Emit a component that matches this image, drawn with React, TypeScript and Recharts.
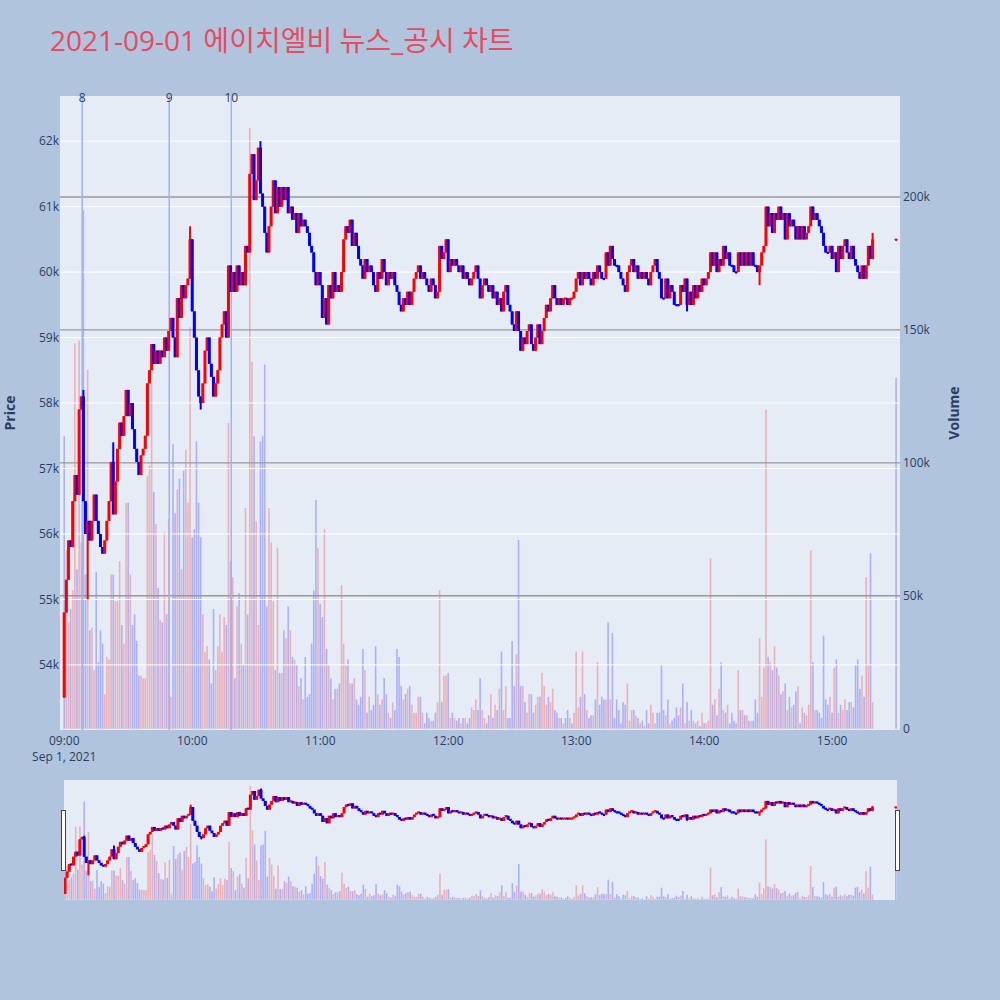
import { ComposedChart, Bar, XAxis, YAxis, CartesianGrid, ReferenceLine } from 'recharts'

// Minute candles of the day, index = minutes after 09:00 (09:00 ~ 15:19), plus the 15:30 closing auction
const FIRST_OPEN = 53500
const CLOSES = [
  54800, 55300, 55900, 55800, 56500, 56900, 56600, 57900, 58100, 56500,
  56000, 56200, 55900, 56200, 56600, 56200, 56000, 55800, 55700, 55900,
  56200, 56500, 57100, 56300, 56800, 57300, 57700, 57500, 57800, 58200,
  57800, 58000, 57600, 57300, 57100, 56900, 57200, 57300, 57500, 58300,
  58500, 58900, 58600, 58800, 58600, 58800, 58700, 59000, 58800, 59100,
  59300, 59000, 58700, 59600, 59300, 59800, 59600, 59800, 59900, 60500,
  59400, 59000, 58500, 58100, 58000, 58300, 58800, 59000, 58600, 58400,
  58100, 58300, 58500, 59000, 59200, 59400, 59000, 60100, 59700, 60000,
  59700, 60100, 59800, 60000, 59800, 60400, 60300, 61500, 61800, 61100,
  61400, 61900, 61200, 61000, 60600, 60300, 60700, 61000, 61400, 60900,
  61300, 61000, 61300, 61100, 61300, 60900, 61000, 60800, 60900, 60600,
  60900, 60700, 60800, 60700, 60600, 60400, 60300, 60000, 59800, 60000,
  59800, 59300, 59600, 59200, 59800, 59600, 60000, 59700, 59800, 59700,
  60000, 60500, 60700, 60600, 60800, 60400, 60600, 60400, 60200, 60100,
  59900, 60200, 60000, 60100, 60000, 59800, 59700, 60000, 59900, 60200,
  60000, 59800, 60000, 59900, 60000, 59800, 59700, 59500, 59400, 59600,
  59500, 59700, 59500, 59700, 59900, 60000, 60100, 59900, 60000, 59900,
  59800, 59700, 59900, 59800, 59600, 59700, 60400, 60200, 60300, 60500,
  60000, 60200, 60100, 60200, 60100, 60000, 60100, 59900, 60000, 59900,
  59800, 59900, 60000, 60100, 59900, 59600, 59800, 59900, 59800, 59700,
  59800, 59600, 59700, 59500, 59600, 59400, 59700, 59800, 59500, 59400,
  59200, 59100, 59400, 59100, 58800, 59000, 58900, 59100, 59200, 58900,
  58800, 59000, 59200, 58900, 59100, 59300, 59500, 59400, 59600, 59800,
  59600, 59500, 59600, 59500, 59600, 59600, 59500, 59600, 59600, 59700,
  59900, 60000, 59800, 60000, 59900, 60000, 59900, 59800, 60000, 59900,
  60100, 60000, 59900, 59900, 60300, 60100, 60400, 60200, 60100, 60100,
  60000, 59900, 59800, 59700, 60000, 60100, 60200, 60000, 60100, 59900,
  60000, 59900, 60000, 59900, 59800, 60000, 60100, 60200, 60000, 59900,
  59600, 59600, 59900, 59600, 59800, 59700, 59500, 59500, 59500, 59800,
  59700, 59900, 59500, 59700, 59500, 59800, 59600, 59800, 59700, 59900,
  59800, 59900, 60000, 60300, 60100, 60300, 60000, 60200, 60100, 60400,
  60200, 60300, 60100, 60100, 60000, 60000, 60300, 60100, 60300, 60100,
  60300, 60100, 60300, 60100, 60100, 60000, 60100, 60300, 60400, 61000,
  60700, 60900, 60600, 60900, 60800, 61000, 60800, 60900, 60500, 60900,
  60700, 60800, 60700, 60500, 60700, 60500, 60700, 60500, 60600, 60700,
  61000, 60800, 60900, 60800, 60700, 60600, 60400, 60300, 60300, 60400,
  60200, 60300, 60000, 60400, 60200, 60400, 60500, 60300, 60200, 60400,
  60200, 60100, 60000, 59900, 60100, 59900, 60100, 60400, 60200, 60500,
]
// volume per minute, thousands of shares
const VOLUMES_K = [
  110, 67, 40, 45, 52, 145, 60, 146, 70, 195,
  58, 135, 37, 38, 22, 59, 25, 37, 32, 13,
  27, 26, 58, 58, 48, 48, 63, 39, 32, 85,
  85, 58, 39, 43, 33, 20, 20, 19, 19, 95,
  99, 130, 89, 77, 53, 41, 40, 74, 43, 79,
  12, 107, 81, 90, 94, 60, 97, 105, 85, 151,
  72, 75, 108, 85, 72, 43, 29, 31, 26, 17,
  45, 22, 31, 43, 29, 42, 39, 115, 63, 57,
  19, 46, 51, 32, 24, 83, 43, 226, 138, 110,
  78, 39, 108, 110, 137, 46, 83, 70, 48, 22,
  68, 21, 21, 37, 34, 46, 37, 27, 26, 24,
  16, 19, 11, 27, 12, 13, 32, 52, 86, 68,
  47, 42, 75, 30, 24, 19, 11, 15, 15, 17,
  54, 32, 24, 26, 17, 17, 19, 11, 9, 12,
  30, 22, 6, 12, 7, 9, 31, 13, 9, 11,
  19, 13, 6, 4, 10, 7, 30, 27, 16, 11,
  13, 15, 16, 9, 6, 6, 12, 12, 6, 2,
  6, 4, 3, 3, 6, 10, 52, 10, 20, 20,
  21, 4, 6, 4, 3, 4, 2, 4, 4, 2,
  4, 8, 7, 11, 7, 19, 7, 4, 2, 5,
  13, 4, 9, 7, 15, 29, 7, 16, 4, 4,
  33, 16, 28, 71, 16, 16, 10, 6, 13, 13,
  6, 9, 12, 12, 21, 16, 9, 12, 10, 15,
  7, 6, 4, 4, 2, 4, 7, 4, 2, 6,
  29, 8, 12, 29, 13, 7, 4, 5, 5, 11,
  25, 9, 12, 11, 11, 40, 11, 36, 4, 11,
  7, 2, 10, 9, 17, 3, 7, 7, 5, 4,
  2, 3, 1, 7, 2, 9, 6, 2, 6, 6,
  24, 7, 5, 11, 2, 3, 4, 8, 5, 8,
  17, 2, 10, 3, 7, 3, 2, 3, 1, 6,
  2, 2, 3, 64, 9, 11, 5, 15, 25, 7,
  6, 9, 2, 6, 3, 2, 22, 7, 7, 5,
  5, 3, 3, 3, 11, 6, 34, 12, 23, 120,
  27, 25, 22, 31, 23, 20, 13, 14, 17, 7,
  12, 8, 9, 14, 16, 2, 8, 6, 5, 9,
  67, 25, 7, 7, 6, 4, 35, 11, 9, 12,
  6, 23, 26, 6, 9, 7, 11, 7, 10, 10,
  8, 24, 26, 15, 20, 12, 57, 24, 66, 10,
]
const AUCTION_MINUTE = 390
const AUCTION_CLOSE = 60500
const AUCTION_VOLUME_K = 132

// [minute, price] wicks that reach past the body
const HIGH_WICKS: [number, number][] = [[9, 58200], [23, 57400], [59, 60700], [92, 62000], [379, 60600]]
const LOW_WICKS: [number, number][] = [[11, 55000], [64, 57900], [292, 59400], [326, 59800]]

const NEWS = [
  { label: '8', minute: 8.4 },
  { label: '9', minute: 49.2 },
  { label: '10', minute: 78.3 },
]

const PRICE_TICKS = [54000, 55000, 56000, 57000, 58000, 59000, 60000, 61000, 62000]
const VOLUME_TICKS = [0, 50, 100, 150, 200]
const TIME_TICKS = [0, 60, 120, 180, 240, 300, 360]
const TIME_LABELS = ['09:00', '10:00', '11:00', '12:00', '13:00', '14:00', '15:00']

const PRICE_DOMAIN: [number, number] = [53005, 62690]
const VOLUME_DOMAIN: [number, number] = [-0.5, 238]

const PAGE_BG = '#B0C4DE'
const PLOT_BG = '#E5ECF6'
const INK = '#2a3f5f'
const FONT = '"Open Sans", "Noto Sans CJK KR", sans-serif'
const UP = '#ff0000'
const DOWN = '#0000ff'

type Row = {
  t: number
  open: number
  close: number
  high: number
  low: number
  range: [number, number]
  volume: number
  up: boolean
  volUp: boolean
}

function buildRows(): Row[] {
  const closes = [...CLOSES, AUCTION_CLOSE]
  const minutes = [...CLOSES.map((_, i) => i), AUCTION_MINUTE]
  const volumes = [...VOLUMES_K, AUCTION_VOLUME_K]
  const highs = new Map(HIGH_WICKS)
  const lows = new Map(LOW_WICKS)
  let lastUp = true
  return closes.map((close, i) => {
    const open = i === 0 ? FIRST_OPEN : closes[i - 1]
    const t = minutes[i]
    const high = Math.max(open, close, highs.get(t) ?? -Infinity)
    const low = Math.min(open, close, lows.get(t) ?? Infinity)
    const up = close > open ? true : close < open ? false : lastUp
    lastUp = up
    return {
      t,
      open,
      close,
      high,
      low,
      range: [low, high],
      volume: volumes[i],
      up,
      volUp: i > 0 && close > closes[i - 1],
    }
  })
}

function Candle(props: any) {
  const { x, y, width, height, payload } = props
  if (x == null || y == null || !payload) return null
  const cx = x + width / 2
  const top = height >= 0 ? y : y + height
  const h = Math.abs(height || 0)
  const span = payload.high - payload.low
  const k = span > 0 ? h / span : 0
  const bodyTop = top + (payload.high - Math.max(payload.open, payload.close)) * k
  const bodyBot = top + (payload.high - Math.min(payload.open, payload.close)) * k
  const bodyH = Math.max(bodyBot - bodyTop, 1.5)
  const color = payload.up ? UP : DOWN
  return (
    <g>
      <rect x={cx - 1} y={top} width={2} height={Math.max(h, 1.5)} fill={color} />
      <rect x={cx - 1.5} y={bodyBot - bodyTop < 1.5 ? bodyTop - 0.75 : bodyTop} width={3} height={bodyH} fill={color} />
    </g>
  )
}

function VolumeBar(props: any) {
  const { x, y, width, height, payload } = props
  if (x == null || y == null || !payload) return null
  const cx = x + width / 2
  return (
    <rect
      x={cx - 0.8}
      y={height >= 0 ? y : y + height}
      width={1.6}
      height={Math.abs(height || 0)}
      fill={payload.volUp ? UP : DOWN}
      fillOpacity={0.25}
    />
  )
}

function TimeTick({ x, y, payload }: any) {
  const i = TIME_TICKS.indexOf(payload.value)
  return (
    <g>
      <text x={x} y={y} dy={9} textAnchor="middle" fontSize={12} fontFamily={FONT} fill={INK}>
        {TIME_LABELS[i]}
      </text>
      {i === 0 && (
        <text x={x} y={y} dy={25} textAnchor="middle" fontSize={12} fontFamily={FONT} fill={INK}>
          Sep 1, 2021
        </text>
      )}
    </g>
  )
}

const tickStyle = { fontSize: 12, fontFamily: FONT, fill: INK }

export default function App() {
  const rows = buildRows()
  const mainMargin = { top: 96, right: 100, bottom: 50, left: 60 }

  return (
    <div
      style={{
        position: 'absolute',
        left: 0,
        top: 0,
        width: 1000,
        height: 1000,
        background: PAGE_BG,
        overflow: 'hidden',
      }}
    >
      {/* background, grids, axes, volume */}
      <div style={{ position: 'absolute', left: 0, top: 0 }}>
        <ComposedChart width={1000} height={780} data={rows} margin={{ top: 96, right: 0, bottom: 0, left: 0 }}>
          <CartesianGrid yAxisId="price" horizontal={false} vertical={false} fill={PLOT_BG} />
          <XAxis
            dataKey="t"
            type="number"
            domain={[-2, 391.8]}
            ticks={TIME_TICKS}
            allowDataOverflow
            height={50}
            axisLine={false}
            tickLine={false}
            tickSize={0}
            tickMargin={6}
            tick={<TimeTick />}
          />
          <YAxis
            yAxisId="price"
            orientation="left"
            width={60}
            domain={PRICE_DOMAIN}
            allowDataOverflow
            ticks={PRICE_TICKS}
            tickFormatter={(v: number) => `${v / 1000}k`}
            axisLine={false}
            tickLine={false}
            tickSize={0}
            tickMargin={1}
            tick={tickStyle}
          />
          <YAxis
            yAxisId="vol"
            orientation="right"
            width={100}
            domain={VOLUME_DOMAIN}
            allowDataOverflow
            ticks={VOLUME_TICKS}
            tickFormatter={(v: number) => (v === 0 ? '0' : `${v}k`)}
            axisLine={false}
            tickLine={false}
            tickSize={0}
            tickMargin={3}
            tick={tickStyle}
          />
          {PRICE_TICKS.map((p) => (
            <ReferenceLine key={`p${p}`} yAxisId="price" y={p} stroke="#ffffff" strokeWidth={1} />
          ))}
          {VOLUME_TICKS.filter((v) => v > 0).map((v) => (
            <ReferenceLine key={`v${v}`} yAxisId="vol" y={v} stroke="#9a9a9a" strokeWidth={1.3} />
          ))}
          <Bar yAxisId="vol" dataKey="volume" barSize={2} shape={VolumeBar} isAnimationActive={false} />
          {NEWS.map((n) => (
            <ReferenceLine
              key={n.label}
              yAxisId="price"
              x={n.minute}
              stroke="#9fb2f4"
              strokeWidth={1.5}
              label={(p: any) => (
                <text
                  x={p.viewBox.x}
                  y={p.viewBox.y + 1}
                  textAnchor="middle"
                  dominantBaseline="central"
                  fontSize={12}
                  fontFamily={FONT}
                  fill={INK}
                >
                  {n.label}
                </text>
              )}
            />
          ))}
        </ComposedChart>
      </div>

      {/* candles */}
      <div style={{ position: 'absolute', left: 0, top: 0 }}>
        <ComposedChart width={1000} height={780} data={rows} margin={mainMargin}>
          <XAxis dataKey="t" type="number" domain={[-2, 391.8]} allowDataOverflow hide />
          <YAxis yAxisId="price" domain={PRICE_DOMAIN} allowDataOverflow hide />
          <Bar yAxisId="price" dataKey="range" barSize={2} shape={Candle} isAnimationActive={false} />
        </ComposedChart>
      </div>

      {/* range slider */}
      <div style={{ position: 'absolute', left: 64, top: 780, width: 833, height: 120, background: PLOT_BG }} />
      <div style={{ position: 'absolute', left: 64, top: 780 }}>
        <ComposedChart width={833} height={120} data={rows} margin={{ top: 0, right: 0, bottom: 0, left: 0 }}>
          <XAxis dataKey="t" type="number" domain={[-0.5, 390.5]} allowDataOverflow hide />
          <YAxis yAxisId="vol" domain={VOLUME_DOMAIN} allowDataOverflow hide />
          <Bar yAxisId="vol" dataKey="volume" barSize={2} shape={VolumeBar} isAnimationActive={false} />
        </ComposedChart>
      </div>
      <div style={{ position: 'absolute', left: 64, top: 780 }}>
        <ComposedChart width={833} height={120} data={rows} margin={{ top: 0, right: 0, bottom: 0, left: 0 }}>
          <XAxis dataKey="t" type="number" domain={[-0.5, 390.5]} allowDataOverflow hide />
          <YAxis yAxisId="price" domain={PRICE_DOMAIN} allowDataOverflow hide />
          <Bar yAxisId="price" dataKey="range" barSize={2} shape={Candle} isAnimationActive={false} />
        </ComposedChart>
      </div>
      <div
        style={{
          position: 'absolute',
          left: 61,
          top: 810,
          width: 3,
          height: 59,
          background: '#ffffff',
          border: '1px solid #444444',
        }}
      />
      <div
        style={{
          position: 'absolute',
          left: 895,
          top: 810,
          width: 3,
          height: 59,
          background: '#ffffff',
          border: '1px solid #444444',
        }}
      />

      {/* titles */}
      <svg width={1000} height={1000} style={{ position: 'absolute', left: 0, top: 0, pointerEvents: 'none' }}>
        <text x={50} y={51} fontSize={28} fontFamily={FONT} fill="#E94A60">
          2021-09-01 에이치엘비 뉴스_공시 차트
        </text>
        <text
          transform="translate(15,413) rotate(-90)"
          textAnchor="middle"
          fontSize={14}
          fontWeight="bold"
          fontFamily={FONT}
          fill={INK}
        >
          Price
        </text>
        <text
          transform="translate(959,413) rotate(-90)"
          textAnchor="middle"
          fontSize={14}
          fontWeight="bold"
          fontFamily={FONT}
          fill={INK}
        >
          Volume
        </text>
      </svg>
    </div>
  )
}
